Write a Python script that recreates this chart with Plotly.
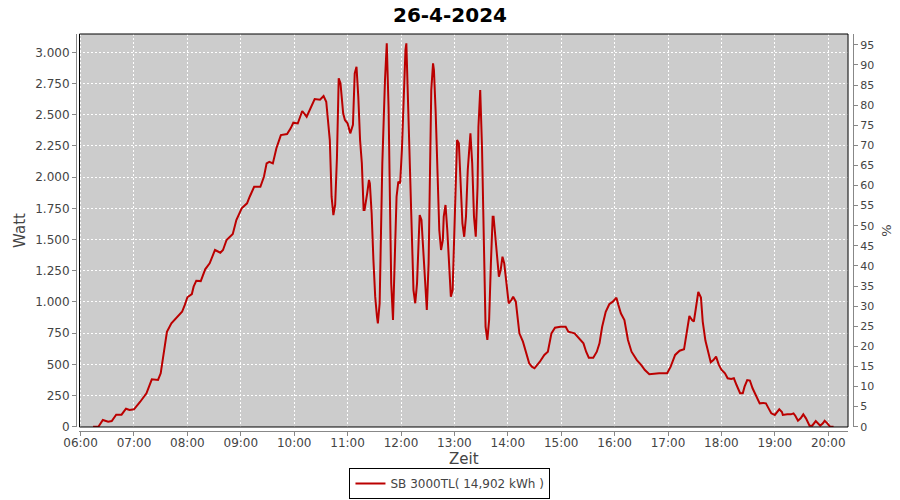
import plotly.graph_objects as go

# ---- data ----
DATE = "2024-04-26"
times = [
    "06:14", "06:20", "06:25", "06:31", "06:35", "06:40", "06:46", "06:51", "06:55", "07:00",
    "07:07", "07:14", "07:20", "07:27", "07:30", "07:33", "07:37", "07:42", "07:48", "07:54",
    "07:57", "08:00", "08:05", "08:07", "08:10", "08:15", "08:20", "08:25", "08:31", "08:37",
    "08:40", "08:44", "08:51", "08:55", "09:01", "09:07", "09:10", "09:15", "09:22", "09:26",
    "09:29", "09:32", "09:36", "09:40", "09:45", "09:52", "09:56", "09:59", "10:04", "10:09",
    "10:14", "10:20", "10:23", "10:29", "10:33", "10:36", "10:38", "10:40", "10:42", "10:44",
    "10:46", "10:48", "10:50", "10:52", "10:55", "10:57", "11:00", "11:03", "11:06", "11:08",
    "11:10", "11:12", "11:14", "11:16", "11:18", "11:19", "11:22", "11:24", "11:25", "11:27",
    "11:29", "11:31", "11:33", "11:34", "11:36", "11:37", "11:39", "11:42", "11:44", "11:46",
    "11:48", "11:49", "11:51", "11:53", "11:55", "11:57", "11:59", "12:01", "12:03", "12:05",
    "12:06", "12:07", "12:10", "12:12", "12:14", "12:16", "12:18", "12:20", "12:21", "12:23",
    "12:25", "12:27", "12:29", "12:31", "12:33", "12:34", "12:36", "12:37", "12:39", "12:41",
    "12:43", "12:45", "12:47", "12:48", "12:50", "12:52", "12:54", "12:56", "12:58", "12:59",
    "13:01", "13:03", "13:05", "13:07", "13:09", "13:11", "13:13", "13:15", "13:17", "13:18",
    "13:20", "13:22", "13:24", "13:26", "13:27", "13:29", "13:31", "13:33", "13:35", "13:37",
    "13:39", "13:41", "13:43", "13:44", "13:46", "13:48", "13:50", "13:52", "13:54", "13:56",
    "13:58", "14:00", "14:01", "14:04", "14:06", "14:09", "14:11", "14:13", "14:17", "14:21",
    "14:24", "14:27", "14:30", "14:36", "14:41", "14:45", "14:47", "14:49", "14:53", "14:59",
    "15:05", "15:08", "15:15", "15:20", "15:25", "15:28", "15:31", "15:36", "15:40", "15:43",
    "15:46", "15:50", "15:54", "15:58", "16:02", "16:04", "16:07", "16:11", "16:15", "16:19",
    "16:25", "16:30", "16:34", "16:39", "16:50", "16:59", "17:03", "17:08", "17:13", "17:18",
    "17:21", "17:24", "17:27", "17:29", "17:31", "17:34", "17:37", "17:39", "17:42", "17:45",
    "17:48", "17:51", "17:54", "17:57", "18:00", "18:04", "18:07", "18:11", "18:14", "18:17",
    "18:21", "18:24", "18:26", "18:29", "18:32", "18:35", "18:39", "18:43", "18:47", "18:50",
    "18:53", "18:56", "19:00", "19:05", "19:08", "19:09", "19:14", "19:18", "19:21", "19:23",
    "19:26", "19:29", "19:32", "19:35", "19:39", "19:42", "19:46", "19:48", "19:51", "19:54",
    "19:56", "19:59", "20:02", "20:06",
]
watt = [
    0, 0, 54, 40, 45, 96, 96, 144, 134, 139,
    200, 268, 380, 375, 428, 561, 761, 828, 876, 921,
    975, 1037, 1063, 1122, 1170, 1167, 1261, 1309, 1416, 1394,
    1416, 1496, 1544, 1656, 1750, 1790, 1843, 1923, 1923, 2003,
    2110, 2123, 2110, 2231, 2337, 2345, 2391, 2436, 2430, 2530,
    2484, 2578, 2626, 2620, 2650, 2604, 2417, 2297, 1843, 1696,
    1777, 2151, 2792, 2752, 2511, 2458, 2430, 2351, 2420, 2832,
    2885, 2645, 2297, 2110, 1736, 1736, 1870, 1977, 1950, 1710,
    1336, 1042, 881, 828, 989, 1470, 2110, 2778, 3072, 2564,
    1576, 1149, 855, 1362, 1843, 1963, 1950, 2217, 2645, 3018,
    3072, 2832, 2110, 1443, 1095, 989, 1149, 1522, 1696, 1656,
    1443, 1149, 935, 1309, 2110, 2698, 2912, 2858, 2511, 2003,
    1576, 1416, 1496, 1683, 1777, 1576, 1309, 1042, 1095, 1309,
    1816, 2297, 2271, 1977, 1630, 1522, 1683, 2057, 2297, 2351,
    2110, 1683, 1522, 1923, 2404, 2698, 2244, 1576, 801, 695,
    855, 1309, 1683, 1683, 1522, 1309, 1202, 1256, 1362, 1309,
    1176, 1042, 989, 1015, 1042, 1002, 881, 748, 681, 588,
    508, 481, 468, 521, 575, 601, 668, 748, 793, 801,
    801, 761, 748, 708, 668, 601, 553, 553, 601, 668,
    801, 921, 981, 1002, 1034, 981, 909, 855, 695, 601,
    534, 494, 454, 420, 428, 428, 481, 575, 609, 620,
    775, 887, 855, 842, 935, 1080, 1035, 842, 690, 595,
    517, 534, 561, 497, 457, 428, 388, 382, 388, 334,
    268, 268, 321, 374, 370, 308, 240, 187, 190, 187,
    147, 107, 94, 139, 118, 94, 99, 99, 107, 88,
    48, 67, 99, 67, 8, 8, 45, 27, 8, 27,
    48, 27, 0, 0,
]
title_text = "26-4-2024"
series_name = "SB 3000TL( 14,902 kWh )"
x_title = "Zeit"
y_title = "Watt"
y2_title = "%"

x_vals = [f"{DATE} {t}" for t in times]

FONT = "DejaVu Sans"
TXT = "#444444"
AX = "#888888"

fig = go.Figure()
fig.add_trace(go.Scatter(
    x=x_vals, y=watt, mode="lines", name=series_name,
    line=dict(color="#BB0000", width=2),
))
# empty trace so the right-hand percent axis is rendered
fig.add_trace(go.Scatter(x=[], y=[], yaxis="y2", showlegend=False, hoverinfo="skip"))

fig.update_layout(
    width=900, height=500,
    margin=dict(l=76, r=47, t=34, b=69, autoexpand=False),
    paper_bgcolor="white",
    plot_bgcolor="#CCCCCC",
    separators=",.",
    font=dict(family=FONT, size=12, color=TXT),
    title=dict(text=title_text, x=0.5, xanchor="center", y=0.970, yanchor="middle",
               font=dict(family=FONT, size=20, color="black", weight="bold")),
    xaxis=dict(
        domain=[0.0045, 0.9936], anchor="free", position=0, automargin=False,
        type="date",
        range=[f"{DATE} 05:58:46", f"{DATE} 20:22:15"],
        dtick=3600000, tick0=f"{DATE} 06:00", tickformat="%H:%M",
        showgrid=True, gridcolor="white", gridwidth=1, griddash="2px,2px",
        showline=True, linecolor=AX, linewidth=1,
        ticks="outside", ticklen=4, tickcolor=AX, ticklabelstandoff=-3,
        tickfont=dict(family=FONT, size=12, color=TXT),
        title=dict(text=x_title, font=dict(family=FONT, size=15, color=TXT), standoff=3),
        zeroline=False,
    ),
    yaxis=dict(
        domain=[0.0101, 1], anchor="free", position=0, automargin=False,
        range=[-2.4, 3147], dtick=250, tick0=0,
        tickformat=",d",
        showgrid=True, gridcolor="white", gridwidth=1, griddash="2px,2px",
        showline=True, linecolor=AX, linewidth=1,
        ticks="outside", ticklen=4, tickcolor=AX,
        tickfont=dict(family=FONT, size=12, color=TXT),
        title=dict(text=y_title, font=dict(family=FONT, size=15, color=TXT), standoff=4),
        zeroline=False,
    ),
    yaxis2=dict(
        overlaying="y", side="right", anchor="free", position=1, automargin=False,
        range=[-0.07, 97.7], dtick=5, tick0=0,
        showgrid=False, zeroline=False,
        showline=True, linecolor=AX, linewidth=1,
        ticks="outside", ticklen=4, tickcolor=AX,
        tickfont=dict(family=FONT, size=11, color=TXT),
        title=dict(text=y2_title, font=dict(family=FONT, size=13, color=TXT), standoff=8),
    ),
    showlegend=True,
    legend=dict(
        orientation="h", x=0.4813, xanchor="center", y=-0.1713, yanchor="bottom",
        bgcolor="white", bordercolor="black", borderwidth=1,
        font=dict(family=FONT, size=12, color=TXT),
        itemwidth=30,
    ),
    shapes=[dict(type="rect", xref="x domain", yref="y domain", x0=0, x1=1, y0=0, y1=1,
                 line=dict(color="black", width=1), layer="above")],
)

fig.write_html("out.html", config={"displayModeBar": False},
               post_script="document.body.style.margin='0';")
